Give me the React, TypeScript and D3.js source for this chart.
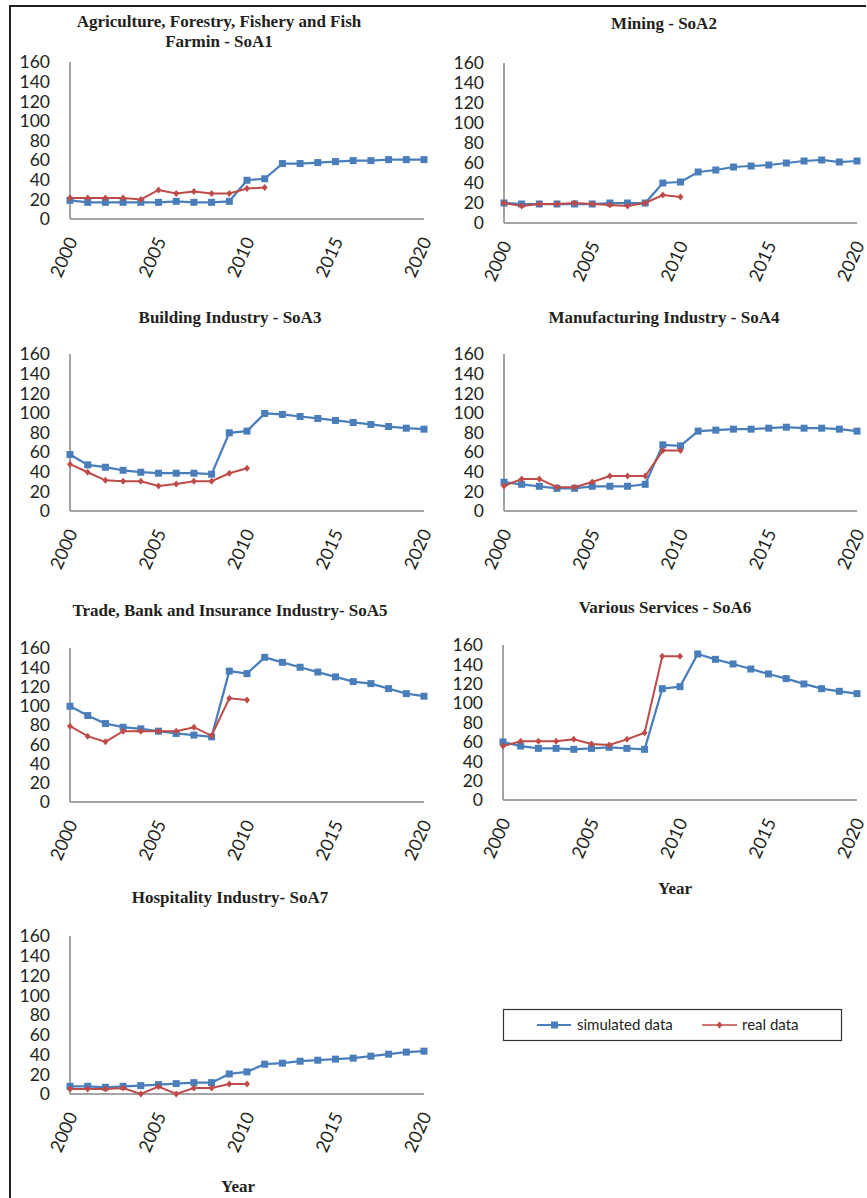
import React from "react";
import * as d3 from "d3";

const years: number[] = [2000, 2001, 2002, 2003, 2004, 2005, 2006, 2007, 2008, 2009, 2010, 2011, 2012, 2013, 2014, 2015, 2016, 2017, 2018, 2019, 2020];
const yTicks: number[] = [0, 20, 40, 60, 80, 100, 120, 140, 160];
const xTicks: number[] = [2000, 2005, 2010, 2015, 2020];

const titles: string[][] = [
  ["Agriculture, Forestry, Fishery and Fish", "Farmin - SoA1"],
  ["Mining - SoA2"],
  ["Building Industry - SoA3"],
  ["Manufacturing Industry - SoA4"],
  ["Trade, Bank and Insurance Industry- SoA5"],
  ["Various Services - SoA6"],
  ["Hospitality Industry- SoA7"],
];

const sim1 = [19, 17, 17, 17, 17, 17, 18, 17, 17, 18, 39.5, 41, 56.5, 56.5, 57.5, 58.5, 59.5, 59.5, 60.5, 60.5, 60.5];
const real1 = [21.5, 21.5, 21.5, 21.5, 20, 29.6, 26, 28, 26, 26, 31, 32];
const sim2 = [20, 19, 19, 19, 19, 19, 20, 20, 20, 40, 41, 51, 53, 56, 57, 58, 60, 62, 63, 61, 62];
const real2 = [20, 17, 19, 19, 20, 19, 18, 17, 20, 28, 26];
const sim3 = [57.5, 47, 44.6, 41.5, 39.5, 38.5, 38.5, 38.5, 37.5, 79.7, 81.4, 99.4, 98.4, 96.3, 94.3, 92.3, 90.2, 88.2, 86.1, 84.4, 83.4];
const real3 = [47.7, 39.5, 31.3, 30.3, 30.3, 25.5, 27.6, 30.3, 30.3, 38.5, 43.6];
const sim4 = [29.3, 27.2, 25.2, 23.1, 23.1, 25.2, 25.2, 25.2, 27.2, 67.4, 66.4, 81.4, 82.4, 83.4, 83.4, 84.4, 85.4, 84.4, 84.4, 83.4, 81.4];
const real4 = [25.5, 32.7, 32.7, 24.2, 24.2, 29.6, 35.7, 35.7, 35.7, 61.6, 61.6];
const sim5 = [99.5, 89.8, 81.5, 77.7, 76, 73.6, 71.2, 69.5, 67.7, 136, 133.4, 150.3, 145.1, 140, 135, 130, 125.1, 123, 117.8, 112.6, 109.9];
const real5 = [78.8, 68.4, 62.5, 73.6, 73.6, 73.6, 73.6, 77.7, 68.8, 107.8, 106];
const sim6 = [59.9, 55.7, 53.3, 53.3, 52.3, 53.3, 54.4, 53.3, 52.3, 114.9, 117, 150.7, 145.2, 140.4, 135.2, 130.1, 125.3, 119.8, 114.9, 112.2, 109.8];
const real6 = [55.7, 60.6, 60.6, 60.6, 62.6, 57.8, 56.8, 62.6, 69.5, 148.3, 148.3];
const sim7 = [7.8, 7.8, 6.8, 7.8, 8.5, 9.5, 10.5, 11.5, 11.5, 20.3, 22.4, 30.2, 31.2, 33.2, 34.2, 35.3, 36.3, 38.3, 40.3, 42.4, 43.4];
const real7 = [5.1, 5.1, 5.1, 6.1, 0, 7.5, 0, 6.1, 6.1, 10.2, 10.2];

const simulated = [sim1, sim2, sim3, sim4, sim5, sim6, sim7];
const real = [real1, real2, real3, real4, real5, real6, real7];
const seriesNames = ["simulated data", "real data"];

// layout of each panel: plot area in pixels, title placement
const panels = [
  { x0: 70, x1: 424, yb: 219, yt: 62, tx: 219, ty: 27, year: null as null | number[] },
  { x0: 504, x1: 857, yb: 223, yt: 63, tx: 664, ty: 29, year: null },
  { x0: 70, x1: 424, yb: 511, yt: 354, tx: 230, ty: 323, year: null },
  { x0: 504, x1: 857, yb: 511, yt: 354, tx: 664, ty: 323, year: null },
  { x0: 70, x1: 424, yb: 802, yt: 648, tx: 230, ty: 616, year: null },
  { x0: 503, x1: 857, yb: 800, yt: 645, tx: 665, ty: 613, year: [675, 894] },
  { x0: 70, x1: 424, yb: 1094, yt: 936, tx: 230, ty: 903, year: [238, 1192] },
];

const BLUE = "#4A7EBB";
const RED = "#BE4B48";
const AXIS = "#868686";
const TICKFONT = "Lato, 'Open Sans', sans-serif";
const TITLEFONT = "'Liberation Serif', 'Times New Roman', serif";

function Panel({ i }: { i: number }) {
  const p = panels[i];
  const x = d3.scaleLinear().domain([2000, 2020]).range([p.x0, p.x1]);
  const y = d3.scaleLinear().domain([0, 160]).range([p.yb, p.yt]);
  const simPts: [number, number][] = simulated[i].map((v, k) => [years[k], v]);
  const realPts: [number, number][] = real[i].map((v, k) => [years[k], v]);
  const line = d3
    .line<[number, number]>()
    .x((d) => x(d[0]))
    .y((d) => y(d[1]));
  return (
    <g>
      {titles[i].map((t, k) => (
        <text
          key={k}
          x={p.tx}
          y={p.ty + k * 19.5}
          textAnchor="middle"
          fontFamily={TITLEFONT}
          fontWeight="bold"
          fontSize={17}
          fill="#231F20"
        >
          {t}
        </text>
      ))}
      <line x1={p.x0} x2={p.x0} y1={y(160)} y2={y(0)} stroke={AXIS} strokeWidth={1.5} />
      <line x1={p.x0} x2={p.x1} y1={y(0)} y2={y(0)} stroke={AXIS} strokeWidth={1.5} />
      {yTicks.map((t) => (
        <text
          key={t}
          x={p.x0 - 20}
          y={y(t)}
          dy="0.36em"
          textAnchor="end"
          fontFamily={TICKFONT}
          fontSize={17.5}
          fill="#231F20"
        >
          {t}
        </text>
      ))}
      {xTicks.map((t) => (
        <text
          key={t}
          transform={`translate(${x(t) + 2},${y(0) + 19}) rotate(-66)`}
          dy="0.36em"
          textAnchor="end"
          fontFamily={TICKFONT}
          fontSize={18}
          fill="#231F20"
        >
          {t}
        </text>
      ))}
      <path d={line(simPts) || ""} fill="none" stroke={BLUE} strokeWidth={2.25} />
      {simPts.map((d, k) => (
        <rect key={k} x={x(d[0]) - 3.5} y={y(d[1]) - 3.5} width={7} height={7} fill={BLUE} />
      ))}
      <path d={line(realPts) || ""} fill="none" stroke={RED} strokeWidth={2} />
      {realPts.map((d, k) => (
        <path
          key={k}
          d={`M${x(d[0])},${y(d[1]) - 3.5}L${x(d[0]) + 3},${y(d[1])}L${x(d[0])},${y(d[1]) + 3.5}L${x(d[0]) - 3},${y(d[1])}Z`}
          fill={RED}
        />
      ))}
      {p.year && (
        <text
          x={p.year[0]}
          y={p.year[1]}
          textAnchor="middle"
          fontFamily={TITLEFONT}
          fontWeight="bold"
          fontSize={17}
          fill="#231F20"
        >
          Year
        </text>
      )}
    </g>
  );
}

export default function App() {
  return (
    <svg
      width={867}
      height={1198}
      style={{ position: "absolute", left: 0, top: 0, background: "#fff" }}
    >
      <rect x={0} y={0} width={867} height={1198} fill="#fff" />
      <line x1={9} x2={866} y1={6} y2={6} stroke="#231F20" strokeWidth={2} />
      <line x1={10} x2={10} y1={5} y2={1198} stroke="#231F20" strokeWidth={2} />
      {panels.map((_, i) => (
        <Panel key={i} i={i} />
      ))}
      <g>
        <rect x={503.5} y={1009.5} width={338} height={31} fill="none" stroke="#333" strokeWidth={1.2} />
        <line x1={537} x2={571} y1={1025} y2={1025} stroke={BLUE} strokeWidth={2} />
        <rect x={551} y={1021.5} width={7} height={7} fill={BLUE} />
        <text x={577} y={1030} fontFamily={TICKFONT} fontSize={15} fill="#231F20">
          {seriesNames[0]}
        </text>
        <line x1={702} x2={737} y1={1025} y2={1025} stroke={RED} strokeWidth={1.5} />
        <path d="M719.5,1021.5L722.5,1025L719.5,1028.5L716.5,1025Z" fill={RED} />
        <text x={742} y={1030} fontFamily={TICKFONT} fontSize={15} fill="#231F20">
          {seriesNames[1]}
        </text>
      </g>
    </svg>
  );
}
